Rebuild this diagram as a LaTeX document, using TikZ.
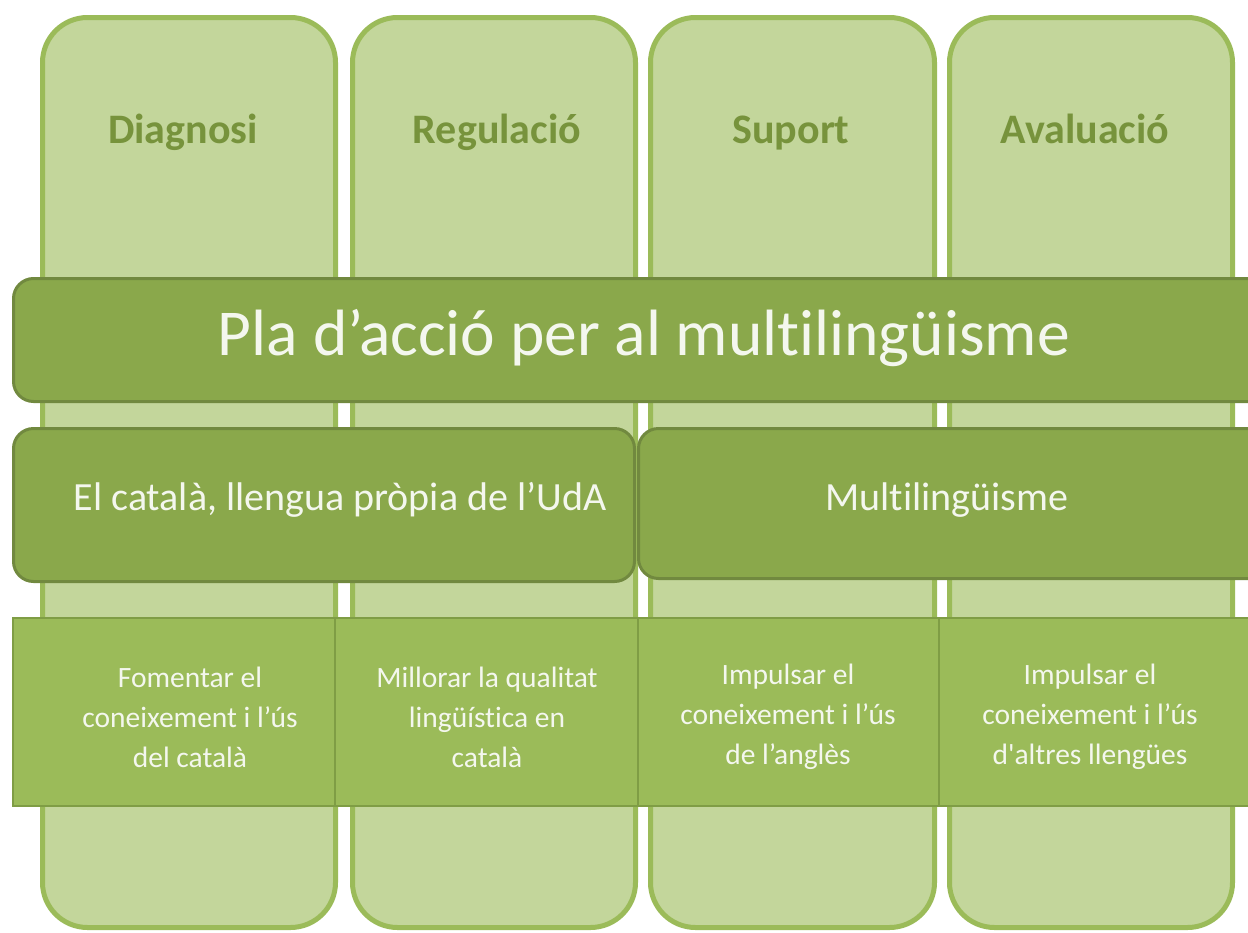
\documentclass[tikz,border=0pt]{standalone}
\usepackage{fontspec}
\setmainfont{Carlito}[Ligatures={NoCommon}]
\definecolor{colfill}{HTML}{C3D69B}
\definecolor{colline}{HTML}{9BBB59}
\definecolor{bandfill}{HTML}{8AA84B}
\definecolor{bandline}{HTML}{71893F}
\definecolor{aimfill}{HTML}{9BBB59}
\definecolor{aimline}{HTML}{7F9D45}
\definecolor{headtext}{HTML}{77933C}
\definecolor{softwhite}{HTML}{F4F7EE}
\begin{document}
\begin{tikzpicture}
[x=1pt, y=-1pt,
  pillar/.style={draw=colline, fill=colfill, line width=5pt, rounded corners=45pt},
  band/.style={draw=bandline, fill=bandfill, line width=3pt, rounded corners=20pt},
  aim/.style={draw=aimline, fill=aimfill, line width=2pt},
  head/.style={font=\fontsize{42}{50}\selectfont\bfseries, text=headtext, anchor=base},
  lbl/.style={text=softwhite, anchor=base},
  aimtext/.style={text=softwhite, align=center, font=\fontsize{29.5}{40}\selectfont}]
  \useasboundingbox (0,0) rectangle (1248,932);
  \clip (0,0) rectangle (1248,932);
  % pillars
  \draw[pillar] (42.5,17.5) rectangle (335.5,927.5);
  \draw[pillar] (352.5,17.5) rectangle (635.5,927.5);
  \draw[pillar] (650.5,17.5) rectangle (934.5,927.5);
  \draw[pillar] (949.5,17.5) rectangle (1232.5,927.5);
  \node[head] (diag) at (183,143) {Diagnosi};
  \node[head] (regul) at (497,143) {Regulació};
  \node[head] (suport) at (791,143) {Suport};
  \node[head] (aval) at (1085,143) {Avaluació};
  % bands
  \draw[band] (13.5,278.5) rectangle (1275,401.5);
  \node[lbl, font=\fontsize{65.5}{72}\selectfont] (pla) at (644,355) {Pla d’acció per al multilingüisme};
  \draw[band] (13.5,428.5) rectangle (634.5,581.5);
  \draw[band] (638.5,428.5) rectangle (1275,578.5);
  \node[lbl, font=\fontsize{40}{48}\selectfont] (catala) at (340,510) {El català, llengua pròpia de l’UdA};
  \node[lbl, font=\fontsize{40}{48}\selectfont] (multi) at (947,510) {Multilingüisme};
  % aims
  \draw[aim] (13,618) rectangle (335,806);
  \draw[aim] (335,618) rectangle (638,806);
  \draw[aim] (638,618) rectangle (939,806);
  \draw[aim] (939,618) rectangle (1260,806);
  \node[aimtext] (fomentar) at (190,717) {Fomentar el\\coneixement i l’ús\\del català};
  \node[aimtext] (millorar) at (487,717) {Millorar la qualitat\\lingüística en\\català};
  \node[aimtext] (angles) at (788,717) {Impulsar el\\coneixement i l’ús\\de l’anglès};
  \node[aimtext] (altres) at (1090,717) {Impulsar el\\coneixement i l’ús\\d\textquotesingle altres llengües};
\end{tikzpicture}
\end{document}
